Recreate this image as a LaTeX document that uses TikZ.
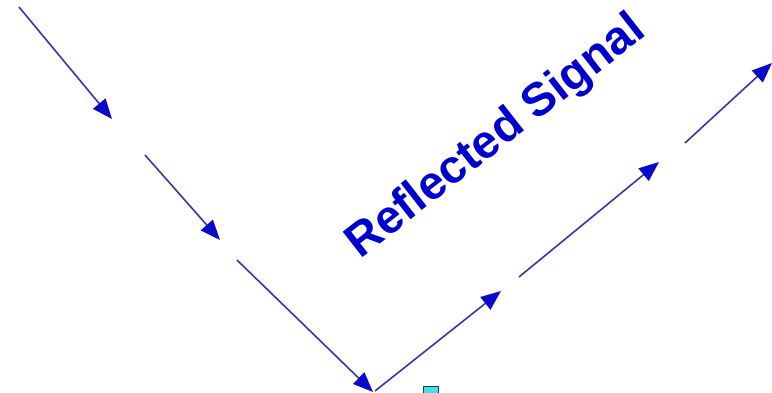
\documentclass[tikz,border=0pt]{standalone}
\usepackage{fontspec}
\setmainfont{Liberation Sans}
\usetikzlibrary{arrows.meta}
\definecolor{linecol}{RGB}{55,55,165}
\definecolor{headcol}{RGB}{10,10,200}
\definecolor{textcol}{RGB}{0,0,204}
\definecolor{sqfill}{RGB}{70,225,225}
\definecolor{sqedge}{RGB}{40,60,70}
\tikzset{
  sig/.style={draw=linecol, line width=1.6pt,
    -{Triangle[length=20pt,width=16pt,color=headcol,fill=headcol]}},
  lbl/.style={text=textcol, font=\fontsize{46.8}{50}\selectfont\bfseries, inner sep=0pt}
}
\begin{document}
\begin{tikzpicture}[x=1pt,y=-1pt]
\clip (0,0) rectangle (772,393);
\fill[white] (0,0) rectangle (772,393);
% incoming
\coordinate (a1) at (19,7);   \coordinate (b1) at (112,119);
\coordinate (a2) at (145,155); \coordinate (b2) at (220,240);
\coordinate (a3) at (237,260); \coordinate (b3) at (373,392);
% reflected
\coordinate (a4) at (375,391); \coordinate (b4) at (501,291);
\coordinate (a5) at (519,277); \coordinate (b5) at (659,162);
\coordinate (a6) at (685,143); \coordinate (b6) at (772,63);
\draw[sig] (a1) -- (b1);
\draw[sig] (a2) -- (b2);
\draw[sig] (a3) -- (b3);
\draw[sig] (a4) -- (b4);
\draw[sig] (a5) -- (b5);
\draw[sig] (a6) -- (b6);
\node[lbl, rotate=38, anchor=base] (t) at (504,147) {Reflected Signal};
\node[draw=sqedge, fill=sqfill, line width=1.2pt, minimum width=15pt, minimum height=14pt, inner sep=0pt, anchor=north west] (sq) at (423,386) {};
\end{tikzpicture}
\end{document}
